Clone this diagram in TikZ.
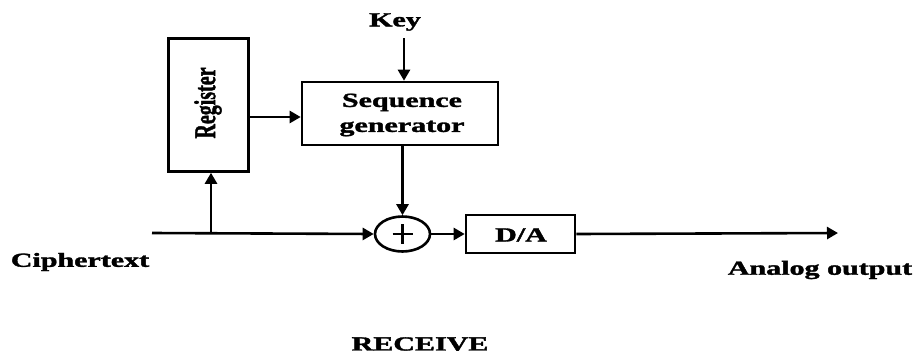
\documentclass[tikz,border=0pt]{standalone}
\usepackage{fontspec}
\setmainfont{Liberation Serif}[BoldFeatures={FakeBold=1.5}]
\usetikzlibrary{arrows.meta,shapes.geometric,calc}
\tikzset{
  lbl/.style={font=\bfseries\fontsize{20}{25}\selectfont, inner sep=0pt, xscale=1.5},
  blk/.style={draw, line width=2.6pt, inner sep=0pt},
  wire/.style={line width=2.6pt},
  arr/.style={wire, -{Triangle[length=11pt,width=12pt]}}
}
\begin{document}
\begin{tikzpicture}[x=1pt,y=-1pt]
\useasboundingbox (0,0) rectangle (916,354);
% blocks
\node[blk, minimum width=80pt, minimum height=133pt] (reg) at (208.5,105) {};
\node[lbl, rotate=90] (regt) at (208,103) {Register};
\node[blk, minimum width=196pt, minimum height=63pt] (seq) at (400,113.5) {};
\node[lbl, align=center] (seqt) at (402,115) {Sequence\\generator};
\node[blk, ellipse, minimum width=55pt, minimum height=35pt] (xor) at (402.5,234) {};
\node[blk, minimum width=109pt, minimum height=38pt] (da) at (520.5,234) {};
\node[lbl] (dat) at (521,235) {D/A};
\draw[wire] ($(xor.center)+(-10,0)$) -- ($(xor.center)+(10,0)$);
\draw[wire] ($(xor.center)+(0,-10)$) -- ($(xor.center)+(0,10)$);
% labels
\node[lbl] (key) at (395,22) {Key};
\node[lbl] (cipher) at (80,262) {Ciphertext};
\node[lbl] (analog) at (820,270) {Analog output};
\node[lbl] (receive) at (420,344) {RECEIVE};
% coordinates
\coordinate (keytop) at (404,38);
\coordinate (cin) at (152,233);
\coordinate (tap) at (211,233);
\coordinate (out) at (838,233);
% connectors
\draw[arr] (keytop) -- (keytop |- seq.north);
\draw[arr] (reg.east |- 0,117) -- (seq.west |- 0,117);
\draw[arr] (tap) -- (tap |- reg.south);
\draw[arr] (seq.south -| xor.north) -- (xor.north);
\draw[arr] (cin) -- (xor.west);
\draw[arr] (xor.east) -- (da.west);
\draw[arr] (da.east) -- (out);
\end{tikzpicture}
\end{document}
